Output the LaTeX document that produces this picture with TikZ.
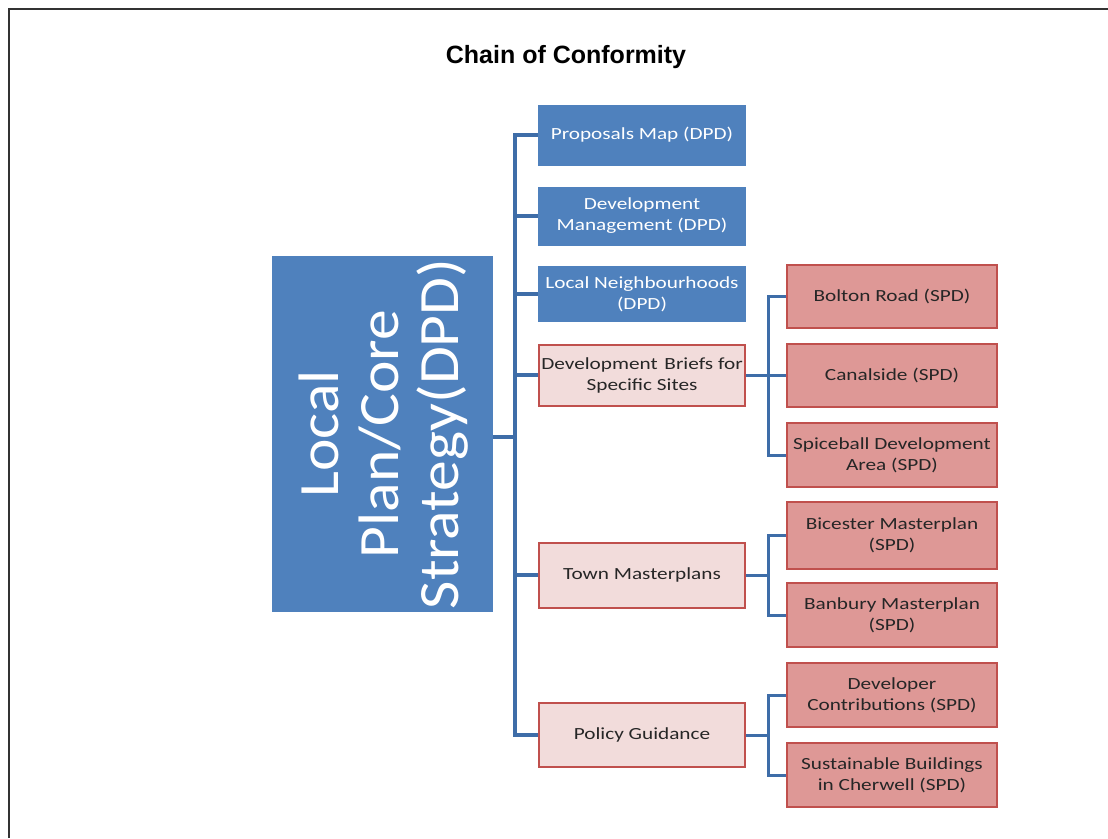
\documentclass[tikz,border=0pt]{standalone}
\usepackage{fontspec}
\setmainfont{Carlito}
\newfontfamily\titlefont{Liberation Sans}
\newfontfamily\boxfont[FakeStretch=1.25]{Carlito}
\newfontfamily\bigfont[FakeStretch=1.08]{Carlito}
\definecolor{bluefill}{HTML}{4F81BD}
\definecolor{linkblue}{HTML}{3E6DA8}
\definecolor{pinkfill}{HTML}{F2DCDB}
\definecolor{redfill}{HTML}{DE9896}
\definecolor{redline}{HTML}{C0504D}
\begin{document}
\begin{tikzpicture}[x=1pt,y=-1pt,
  bluebox/.style={fill=bluefill, draw=none, text=white, minimum width=208pt, align=center, font=\boxfont\fontsize{17}{21}\selectfont, inner sep=1pt},
  pinkbox/.style={fill=pinkfill, draw=redline, line width=2pt, text=black!85, minimum width=206pt, align=center, font=\boxfont\fontsize{17}{21}\selectfont, inner sep=1pt},
  redbox/.style={fill=redfill, draw=redline, line width=2pt, text=black!85, minimum width=210pt, align=center, font=\boxfont\fontsize{17}{21}\selectfont, inner sep=1pt},
  link/.style={draw=linkblue, line width=3.5pt},
  sublink/.style={draw=linkblue, line width=3pt}]
\useasboundingbox (0,0) rectangle (1108,838);
\fill[white] (0,0) rectangle (1108,838);
\draw[line width=2pt, black!80] (9,838) -- (9,9) -- (1108,9);
\node[font=\titlefont\bfseries\fontsize{25}{28}\selectfont] (title) at (566,57) {Chain of Conformity};
% big box
\node[fill=bluefill, minimum width=221pt, minimum height=356pt, inner sep=0pt] (main) at (382.5,434) {};
\node[rotate=90, text=white, align=center, font=\bigfont\fontsize{57}{60}\selectfont] (maintext) at (384,434) {Local\\Plan/Core\\Strategy(DPD)};
% middle column
\node[bluebox, minimum height=61pt] (pm) at (642,135) {Proposals Map (DPD)};
\node[bluebox, minimum height=59pt] (dm) at (642,216) {Development\\Management (DPD)};
\node[bluebox, minimum height=56pt] (ln) at (642,294) {Local Neighbourhoods\\(DPD)};
\node[pinkbox, minimum height=61pt] (db) at (642,375) {Development\hspace{0.4em}Briefs for\\Specific Sites};
\node[pinkbox, minimum height=65pt] (tm) at (642,575) {Town Masterplans};
\node[pinkbox, minimum height=64pt] (pg) at (642,735) {Policy Guidance};
% right column
\node[redbox, minimum height=63pt] (br) at (892,296) {Bolton Road (SPD)};
\node[redbox, minimum height=63pt] (cs) at (892,375) {Canalside (SPD)};
\node[redbox, minimum height=64pt] (sp) at (892,455) {Spiceball Development\\Area (SPD)};
\node[redbox, minimum height=67pt] (bi) at (892,535) {Bicester Masterplan\\(SPD)};
\node[redbox, minimum height=64pt] (ba) at (892,615) {Banbury Masterplan\\(SPD)};
\node[redbox, minimum height=64pt] (dc) at (892,695) {Developer\\Contributions (SPD)};
\node[redbox, minimum height=64pt] (sb) at (892,775) {Sustainable Buildings\\in Cherwell (SPD)};
% trunk coordinates
\coordinate (tr) at (515,437);
\coordinate (s1) at (768,375);
\coordinate (s2) at (768,575);
\coordinate (s3) at (768,735);
% main trunk
\draw[link] (main.east |- tr) -- (tr);
\draw[link] (pm.west) -| (tr) |- (pg.west);
\foreach \n in {dm,ln,db,tm}{\draw[link] (tr |- \n.west) -- (\n.west);}
% sub trunks
\draw[sublink] (db.east) -- (s1);
\draw[sublink] (br.west) -| (s1) |- (sp.west);
\draw[sublink] (s1) -- (cs.west);
\draw[sublink] (tm.east) -- (s2);
\draw[sublink] (bi.west) -| (s2) |- (ba.west);
\draw[sublink] (pg.east) -- (s3);
\draw[sublink] (dc.west) -| (s3) |- (sb.west);
\end{tikzpicture}
\end{document}
